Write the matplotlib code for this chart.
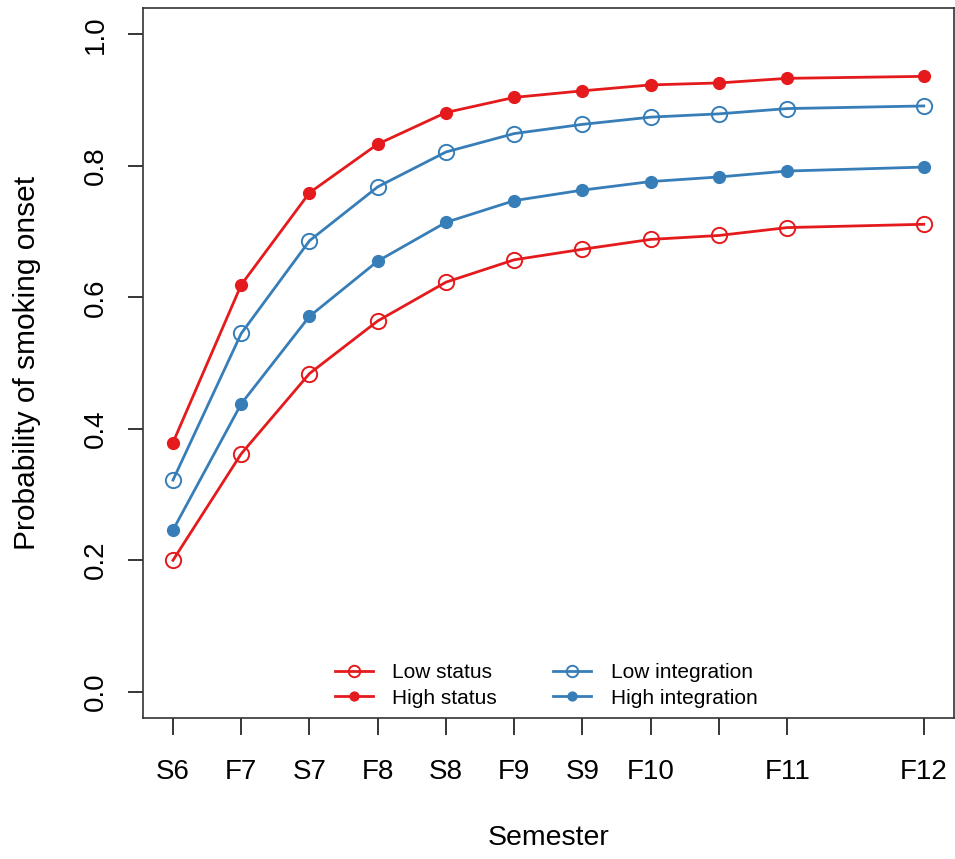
import matplotlib
matplotlib.use('Agg')
import matplotlib.pyplot as plt

plt.rcParams['font.family'] = ['Liberation Sans', 'DejaVu Sans']

# Semester positions (S11 has no observation, so F12 sits two steps after F11)
x_pos = [0, 1, 2, 3, 4, 5, 6, 7, 8, 9, 11]
tick_labels = ['S6', 'F7', 'S7', 'F8', 'S8', 'F9', 'S9', 'F10', '', 'F11', 'F12']

low_status = [0.200, 0.362, 0.484, 0.564, 0.623, 0.657, 0.673, 0.688, 0.694, 0.706, 0.711]
high_status = [0.379, 0.619, 0.759, 0.833, 0.881, 0.904, 0.914, 0.923, 0.926, 0.933, 0.936]
low_integration = [0.322, 0.545, 0.686, 0.768, 0.821, 0.849, 0.863, 0.874, 0.879, 0.887, 0.891]
high_integration = [0.246, 0.438, 0.571, 0.655, 0.714, 0.747, 0.763, 0.776, 0.783, 0.792, 0.798]

RED = '#E41A1C'
BLUE = '#377EB8'

fig = plt.figure(figsize=(9.55, 8.59), dpi=100)
ax = fig.add_axes([0.1497, 0.1641, 0.849, 0.8266])

ax.plot(x_pos, low_status, color=RED, lw=2.0, marker='o', ms=11,
        mfc='none', mec=RED, mew=1.4, label='Low status')
ax.plot(x_pos, high_status, color=RED, lw=2.0, marker='o', ms=8.5,
        mfc=RED, mec=RED, label='High status')
ax.plot(x_pos, low_integration, color=BLUE, lw=2.0, marker='o', ms=11,
        mfc='none', mec=BLUE, mew=1.4, label='Low integration')
ax.plot(x_pos, high_integration, color=BLUE, lw=2.0, marker='o', ms=8.5,
        mfc=BLUE, mec=BLUE, label='High integration')

ax.set_xlim(-0.44, 11.44)
ax.set_ylim(-0.04, 1.04)

ax.set_xticks(x_pos)
ax.set_xticklabels(tick_labels)
ax.set_yticks([0.0, 0.2, 0.4, 0.6, 0.8, 1.0])
ax.set_yticklabels(['0.0', '0.2', '0.4', '0.6', '0.8', '1.0'], rotation=90, va='center')

ax.tick_params(axis='x', direction='out', length=12, width=1.1, pad=17.5, labelsize=20)
ax.tick_params(axis='y', direction='out', length=11, width=1.1, pad=13.5, labelsize=20)

for sp in ax.spines.values():
    sp.set_linewidth(1.2)
    sp.set_color('#333333')

ax.set_xlabel('Semester', fontsize=20.5, labelpad=29)
ax.set_ylabel('Probability of smoking onset', fontsize=21.5, labelpad=30)

ax.legend(ncol=2, loc='lower center', bbox_to_anchor=(0.4975, 0.0), frameon=False,
          fontsize=15, markerscale=0.75, handlelength=1.8, handletextpad=0.95,
          columnspacing=2.7, labelspacing=0.3, borderaxespad=0.1)

fig.savefig('out.png', dpi=100)
